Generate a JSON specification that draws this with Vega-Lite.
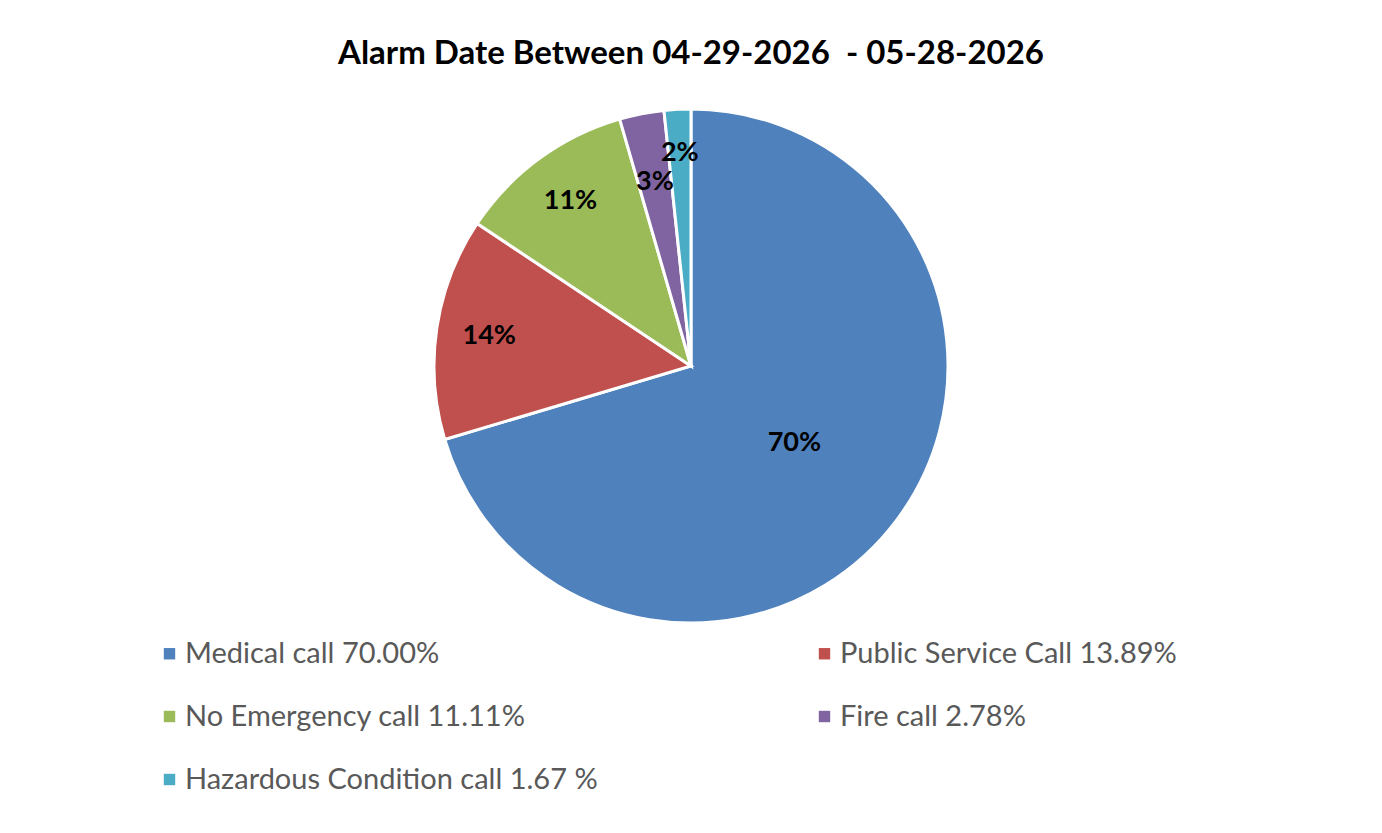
{
  "$schema": "https://vega.github.io/schema/vega-lite/v6.json",
  "width": 1382,
  "height": 532,
  "autosize": {"type": "none"},
  "padding": {"left": 0, "top": 100, "right": 0, "bottom": 201},
  "background": "white",
  "config": {"view": {"stroke": null}},
  "title": {
    "text": "Alarm Date Between 04-29-2026\u00a0 - 05-28-2026",
    "fontSize": 33,
    "font": "Lato",
    "fontWeight": "bold",
    "color": "#000000",
    "offset": 29,
    "anchor": "middle"
  },
  "data": {
    "values": [
      {"rank": 1, "category": "Medical call", "pct": 70.00, "label": "70%", "legend": "Medical call 70.00%"},
      {"rank": 2, "category": "Public Service Call", "pct": 13.89, "label": "14%", "legend": "Public Service Call 13.89%"},
      {"rank": 3, "category": "No Emergency call", "pct": 11.11, "label": "11%", "legend": "No Emergency call 11.11%"},
      {"rank": 4, "category": "Fire call", "pct": 2.78, "label": "3%", "legend": "Fire call 2.78%"},
      {"rank": 5, "category": "Hazardous Condition call", "pct": 1.67, "label": "2%", "legend": "Hazardous Condition call 1.67 %"}
    ]
  },
  "encoding": {
    "theta": {"field": "pct", "type": "quantitative", "stack": true},
    "order": {"field": "rank", "type": "quantitative"}
  },
  "layer": [
    {
      "mark": {"type": "arc", "outerRadius": 257, "stroke": "white", "strokeWidth": 3},
      "encoding": {
        "color": {
          "field": "legend",
          "type": "nominal",
          "sort": null,
          "scale": {
            "domain": ["Medical call 70.00%", "No Emergency call 11.11%", "Hazardous Condition call 1.67 %", "Public Service Call 13.89%", "Fire call 2.78%"],
            "range": ["#4F81BD", "#9BBB59", "#4BACC6", "#C0504D", "#8064A2"]
          },
          "legend": {
            "orient": "none",
            "legendX": 155,
            "legendY": 539,
            "columns": 2,
            "title": null,
            "symbolType": "square",
            "symbolSize": 130,
            "symbolStrokeWidth": 0,
            "labelFontSize": 29,
            "labelFont": "Lato",
            "labelColor": "#595959",
            "labelOffset": 1,
            "columnPadding": 212,
            "rowPadding": 33,
            "padding": 0,
            "labelLimit": 700
          }
        }
      }
    },
    {
      "mark": {
        "type": "text",
        "fontSize": 27,
        "fontWeight": "bold",
        "font": "Lato",
        "color": "#000000",
        "radius": {"expr": "datum.rank == 1 ? 129 : datum.rank == 4 ? 188 : datum.rank == 5 ? 213 : 204"}
      },
      "encoding": {
        "text": {"field": "label"}
      }
    }
  ]
}
